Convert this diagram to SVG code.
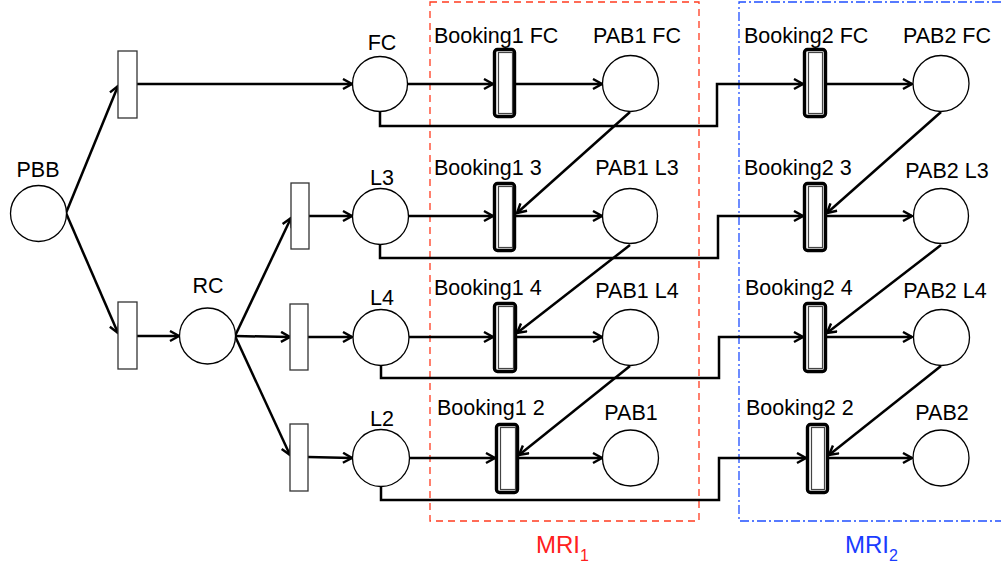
<svg xmlns="http://www.w3.org/2000/svg" width="1002" height="569" viewBox="0 0 1002 569">
<style>
.pl{fill:#fff;stroke:#000;stroke-width:1.3}
.tr{fill:#fff;stroke:#333;stroke-width:1.3}
.bo{fill:#fff;stroke:#000;stroke-width:3.4}
.bi{fill:#fff;stroke:#444;stroke-width:1.2}
.t{font-family:"Liberation Sans",Arial,sans-serif;font-size:21.5px;fill:#000}
.c{stroke:#000;stroke-width:2.5;fill:none}
.a{marker-end:url(#ah)}
</style>
<defs>
<marker id="ah" markerUnits="userSpaceOnUse" markerWidth="14" markerHeight="14" refX="11" refY="6" orient="auto">
<path d="M2,1 L11,6 L2,11" fill="none" stroke="#000" stroke-width="2.4"/>
</marker>
</defs>
<g id="regions">
<rect x="430" y="2" width="269" height="519" fill="none" stroke="#ff3b1f" stroke-width="1.3" stroke-dasharray="7,5"/>
<path d="M1001,2 H739 V521 H1001" fill="none" stroke="#1f4fff" stroke-width="1.3" stroke-dasharray="9,3,2,3"/>
<text x="536" y="553" font-family="Liberation Sans,Arial,sans-serif" font-size="24" fill="#ff2020">MRI<tspan font-size="16" dy="8">1</tspan></text>
<text x="845" y="553" font-family="Liberation Sans,Arial,sans-serif" font-size="24" fill="#1a3cff">MRI<tspan font-size="16" dy="8">2</tspan></text>
</g>
<g id="connectors">
<path class="c a" d="M66,213 L118,86"/>
<path class="c a" d="M66,213 L118,333"/>
<path class="c a" d="M137,84 L352,84"/>
<path class="c a" d="M137,336 L179,336"/>
<path class="c a" d="M235,336 L291,218"/>
<path class="c a" d="M235,336 L290,337"/>
<path class="c a" d="M235,336 L290,455"/>
<path class="c a" d="M309,216 L352,216"/>
<path class="c a" d="M308,337 L352,337"/>
<path class="c a" d="M308,457 L352,458"/>
<path class="c a" d="M408,84 L493,84"/>
<path class="c a" d="M408,216 L493,216"/>
<path class="c a" d="M409,337 L493,337"/>
<path class="c a" d="M409,458 L495,458"/>
<path class="c a" d="M516,84 L602,84"/>
<path class="c a" d="M516,216 L602,216"/>
<path class="c a" d="M517,337 L602,337"/>
<path class="c a" d="M519,458 L602,458"/>
<path class="c a" d="M827,84 L912,84"/>
<path class="c a" d="M827,216 L912,216"/>
<path class="c a" d="M827,337 L912,337"/>
<path class="c a" d="M829,458 L912,458"/>
<path class="c a" d="M380,112 V126 H717 V84 H803"/>
<path class="c a" d="M380,244 V258 H718 V216 H803"/>
<path class="c a" d="M381,365 V378 H719 V337 H803"/>
<path class="c a" d="M381,486 V500 H719 V458 H806"/>
<path class="c a" d="M630,112 L517,213"/>
<path class="c a" d="M630,245 L517,333"/>
<path class="c a" d="M630,366 L519,455"/>
<path class="c a" d="M941,112 L827,213"/>
<path class="c a" d="M941,245 L827,333"/>
<path class="c a" d="M941,366 L829,455"/>
</g>
<g id="PBB"><circle class="pl" cx="38.5" cy="213.5" r="28"/><text class="t" x="38" y="177" text-anchor="middle">PBB</text></g>
<g id="T1"><rect class="tr" x="118" y="51" width="19" height="67"/></g>
<g id="T2"><rect class="tr" x="118" y="302" width="19" height="67"/></g>
<g id="RC"><circle class="pl" cx="207.5" cy="336" r="28"/><text class="t" x="208" y="293" text-anchor="middle">RC</text></g>
<g id="T3"><rect class="tr" x="291" y="183" width="18" height="66"/></g>
<g id="T4"><rect class="tr" x="290" y="304" width="18" height="66"/></g>
<g id="T5"><rect class="tr" x="290" y="424" width="18" height="67"/></g>
<g id="FC"><circle class="pl" cx="380" cy="84" r="27.5"/><text class="t" x="382" y="50" text-anchor="middle">FC</text></g>
<g id="L3"><circle class="pl" cx="380.5" cy="216.5" r="28"/><text class="t" x="382" y="185" text-anchor="middle">L3</text></g>
<g id="L4"><circle class="pl" cx="381" cy="337.5" r="28"/><text class="t" x="382" y="305" text-anchor="middle">L4</text></g>
<g id="L2"><circle class="pl" cx="381" cy="458" r="28.5"/><text class="t" x="382" y="426" text-anchor="middle">L2</text></g>
<g id="B1FC"><rect class="bo" x="494.5" y="49.5" width="20" height="67" rx="3"/><rect class="bi" x="498.5" y="52.5" width="14" height="61"/><text class="t" x="434" y="43">Booking1 FC</text></g>
<g id="B13"><rect class="bo" x="494.5" y="183.5" width="20" height="67" rx="3"/><rect class="bi" x="498.5" y="186.5" width="14" height="61"/><text class="t" x="434" y="175">Booking1 3</text></g>
<g id="B14"><rect class="bo" x="494.5" y="303.5" width="21" height="68" rx="3"/><rect class="bi" x="498.5" y="306.5" width="15" height="62"/><text class="t" x="434" y="295">Booking1 4</text></g>
<g id="B12"><rect class="bo" x="496.5" y="424.5" width="21" height="68" rx="3"/><rect class="bi" x="500.5" y="427.5" width="15" height="62"/><text class="t" x="437" y="415">Booking1 2</text></g>
<g id="PAB1FC"><circle class="pl" cx="630.5" cy="83.5" r="28"/><text class="t" x="637" y="43" text-anchor="middle">PAB1 FC</text></g>
<g id="PAB1L3"><circle class="pl" cx="630" cy="216" r="27.5"/><text class="t" x="637" y="175" text-anchor="middle">PAB1 L3</text></g>
<g id="PAB1L4"><circle class="pl" cx="630.5" cy="337.5" r="28"/><text class="t" x="637" y="298" text-anchor="middle">PAB1 L4</text></g>
<g id="PAB1"><circle class="pl" cx="630.5" cy="458" r="28"/><text class="t" x="631" y="420" text-anchor="middle">PAB1</text></g>
<g id="B2FC"><rect class="bo" x="804.5" y="49.5" width="21" height="67" rx="3"/><rect class="bi" x="808.5" y="52.5" width="14" height="61"/><text class="t" x="744" y="43">Booking2 FC</text></g>
<g id="B23"><rect class="bo" x="804.5" y="183.5" width="21" height="67" rx="3"/><rect class="bi" x="808.5" y="186.5" width="14" height="61"/><text class="t" x="744" y="175">Booking2 3</text></g>
<g id="B24"><rect class="bo" x="804.5" y="303.5" width="21" height="68" rx="3"/><rect class="bi" x="808.5" y="306.5" width="14" height="62"/><text class="t" x="745" y="295">Booking2 4</text></g>
<g id="B22"><rect class="bo" x="807.5" y="424.5" width="20" height="68" rx="3"/><rect class="bi" x="811.5" y="427.5" width="13" height="62"/><text class="t" x="746" y="415">Booking2 2</text></g>
<g id="PAB2FC"><circle class="pl" cx="941" cy="83.5" r="28"/><text class="t" x="947" y="43" text-anchor="middle">PAB2 FC</text></g>
<g id="PAB2L3"><circle class="pl" cx="941" cy="216" r="27.5"/><text class="t" x="947" y="178" text-anchor="middle">PAB2 L3</text></g>
<g id="PAB2L4"><circle class="pl" cx="941.5" cy="337.5" r="28"/><text class="t" x="945" y="298" text-anchor="middle">PAB2 L4</text></g>
<g id="PAB2"><circle class="pl" cx="941" cy="458" r="28"/><text class="t" x="942" y="420" text-anchor="middle">PAB2</text></g>
</svg>
